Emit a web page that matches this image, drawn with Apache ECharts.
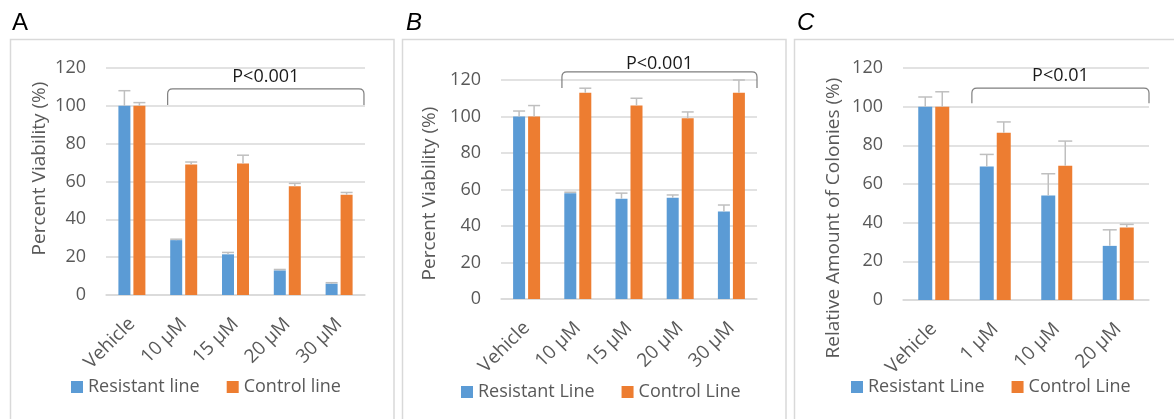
<!DOCTYPE html>
<html>
<head>
<meta charset="utf-8">
<script src="https://cdn.jsdelivr.net/npm/echarts@6/dist/echarts.min.js"></script>
<style>
  html, body { margin: 0; padding: 0; background: #fff; }
  #main { width: 1174px; height: 419px; }
</style>
</head>
<body>
<div id="main"></div>
<script>
// panel A - cell viability
var catsA = ['Vehicle', '10 µM', '15 µM', '20 µM', '30 µM'];
var resA = [100, 29, 21.5, 13, 6];
var resErrA = [8, 0.5, 1, 0.5, 0.5];
var ctrlA = [100, 69, 69.5, 57.5, 53];
var ctrlErrA = [1.7, 1.3, 4.4, 1.5, 1.2];

// panel B
var catsB = ['Vehicle', '10 µM', '15 µM', '20 µM', '30 µM'];
var resB = [100, 58, 55, 55.5, 48];
var resErrB = [3, 0.5, 3, 1.5, 3.5];
var ctrlB = [100, 113, 106, 99, 113];
var ctrlErrB = [6, 2.5, 4, 3.5, 7];

// panel C - colonies
var catsC = ['Vehicle', '1 µM', '10 µM', '20 µM'];
var resC = [100, 69, 54, 28];
var resErrC = [5, 6.3, 11.3, 8.3];
var ctrlC = [100, 86.5, 69.5, 37.5];
var ctrlErrC = [7.7, 5.6, 12.7, 1.6];

var yTicks = {min: 0, max: 120, interval: 20};

var BLUE = '#5B9BD5', ORANGE = '#ED7D31', GREY = '#595959', FONT = 'Open Sans';

function errRender(offset, capW) {
    return function (params, api) {
        var idx = api.value(0), v = api.value(1), e = api.value(2);
        var base = api.coord([idx, v]);
        var top = api.coord([idx, v + e]);
        var x = base[0] + offset;
        var st = {stroke: '#BFBFBF', lineWidth: 1.5};
        return {
            type: 'group',
            children: [
                {type: 'line', shape: {x1: x, y1: base[1], x2: x, y2: top[1]}, style: st},
                {type: 'line', shape: {x1: x - capW / 2, y1: top[1], x2: x + capW / 2, y2: top[1]}, style: st}
            ]
        };
    };
}

// bracket: [from idx, to idx, low value, high value, text value]
function bracketRender(spec, label) {
    return function (params, api) {
        var band = api.size([1, 0])[0];
        var x0 = api.coord([0, 0])[0];
        var xl = x0 + spec[0] * band, xr = x0 + spec[1] * band;
        var yl = api.coord([0, spec[2]])[1], yh = api.coord([0, spec[3]])[1], yt = api.coord([0, spec[4]])[1];
        var r = 5;
        var d = 'M' + xl + ' ' + yl + ' L' + xl + ' ' + (yh + r) + ' Q' + xl + ' ' + yh + ' ' + (xl + r) + ' ' + yh +
            ' L' + (xr - r) + ' ' + yh + ' Q' + xr + ' ' + yh + ' ' + xr + ' ' + (yh + r) + ' L' + xr + ' ' + yl;
        return {
            type: 'group',
            children: [
                {type: 'path', shape: {pathData: d}, style: {stroke: '#7F7F7F', fill: null, lineWidth: 1.2}},
                {type: 'text', style: {text: label, x: (xl + xr) / 2, y: yt, align: 'center', verticalAlign: 'middle',
                    fill: '#1a1a1a', font: '18px "Open Sans"'}}
            ]
        };
    };
}

var panels = [
    {cats: catsA, res: resA, resErr: resErrA, ctrl: ctrlA, ctrlErr: ctrlErrA,
        grid: {left: 106, top: 68, width: 259, height: 227}, barW: 12, gap: 3,
        yName: 'Percent Viability (%)', nameGap: 57, namePad: [0, 0, 0, 26],
        names: ['Resistant line', 'Control line'], legend: {left: 66, top: 373},
        bracket: [0.69, 4.48, 100.5, 109, 115.5], pText: 'P<0.001'},
    {cats: catsB, res: resB, resErr: resErrB, ctrl: ctrlB, ctrlErr: ctrlErrB,
        grid: {left: 501, top: 80, width: 256, height: 219}, barW: 12, gap: 3,
        yName: 'Percent Viability (%)', nameGap: 62, namePad: [0, 8, 0, 0],
        names: ['Resistant Line', 'Control Line'], legend: {left: 456, top: 378},
        bracket: [0.69, 4.5, 115.6, 124.4, 129], pText: 'P<0.001'},
    {cats: catsC, res: resC, resErr: resErrC, ctrl: ctrlC, ctrlErr: ctrlErrC,
        grid: {left: 903, top: 68, width: 246, height: 232}, barW: 14, gap: 3,
        yName: 'Relative Amount of Colonies (%)', nameGap: 60, namePad: [0, 68, 0, 0],
        names: ['Resistant Line', 'Control Line'], legend: {left: 846, top: 373},
        bracket: [0.62, 3.5, 101.8, 109.6, 115.8], pText: 'P<0.01'}
];

var option = {
    animation: false,
    textStyle: {fontFamily: FONT},
    grid: [], xAxis: [], yAxis: [], legend: [], series: [],
    graphic: [
        {type: 'rect', shape: {x: 10.5, y: 39.5, width: 383.5, height: 420}, style: {fill: null, stroke: '#D9D9D9', lineWidth: 1.5}},
        {type: 'rect', shape: {x: 402.5, y: 39.5, width: 383.5, height: 420}, style: {fill: null, stroke: '#D9D9D9', lineWidth: 1.5}},
        {type: 'rect', shape: {x: 794.5, y: 39.5, width: 420, height: 420}, style: {fill: null, stroke: '#D9D9D9', lineWidth: 1.5}},
        {type: 'text', left: 12, top: 11, style: {text: 'A', fill: '#000', font: '24px "Liberation Sans"'}},
        {type: 'text', left: 406, top: 11, style: {text: 'B', fill: '#000', font: 'italic 24px "Liberation Sans"'}},
        {type: 'text', left: 797, top: 11, style: {text: 'C', fill: '#000', font: 'italic 24px "Liberation Sans"'}}
    ]
};

panels.forEach(function (p, k) {
    option.grid.push(p.grid);
    option.xAxis.push({
        type: 'category', gridIndex: k, data: p.cats,
        axisTick: {show: false},
        axisLine: {lineStyle: {color: '#D9D9D9', width: 1.5}},
        axisLabel: {rotate: 45, interval: 0, margin: 26, color: GREY, fontSize: 19, fontFamily: FONT}
    });
    option.yAxis.push({
        type: 'value', gridIndex: k, min: yTicks.min, max: yTicks.max, interval: yTicks.interval,
        name: p.yName, nameLocation: 'middle', nameGap: p.nameGap,
        nameTextStyle: {color: GREY, fontSize: 19, fontFamily: FONT, padding: p.namePad},
        axisLine: {show: false}, axisTick: {show: false},
        axisLabel: {margin: 20, color: GREY, fontSize: 18, fontFamily: FONT},
        splitLine: {lineStyle: {color: '#D9D9D9', width: 1.5}}
    });
    option.legend.push({
        data: p.names, left: p.legend.left, top: p.legend.top,
        icon: 'rect', itemWidth: 12, itemHeight: 12, itemGap: 27,
        textStyle: {color: GREY, fontSize: 18, fontFamily: FONT}
    });
    var off = (p.barW + p.gap) / 2;
    option.series.push({
        name: p.names[0], type: 'bar', xAxisIndex: k, yAxisIndex: k, data: p.res,
        barWidth: p.barW, barGap: (p.gap / p.barW * 100) + '%', itemStyle: {color: BLUE}
    });
    option.series.push({
        name: p.names[1], type: 'bar', xAxisIndex: k, yAxisIndex: k, data: p.ctrl,
        barWidth: p.barW, barGap: (p.gap / p.barW * 100) + '%', itemStyle: {color: ORANGE}
    });
    option.series.push({
        type: 'custom', xAxisIndex: k, yAxisIndex: k, z: 5,
        renderItem: errRender(-off, p.barW), encode: {x: 0, y: 1},
        data: p.res.map(function (v, i) { return [i, v, p.resErr[i]]; })
    });
    option.series.push({
        type: 'custom', xAxisIndex: k, yAxisIndex: k, z: 5,
        renderItem: errRender(off, p.barW), encode: {x: 0, y: 1},
        data: p.ctrl.map(function (v, i) { return [i, v, p.ctrlErr[i]]; })
    });
    option.series.push({
        type: 'custom', xAxisIndex: k, yAxisIndex: k, z: 6, silent: true,
        renderItem: bracketRender(p.bracket, p.pText), encode: {x: 0, y: 1},
        data: [[0, 0]]
    });
});

var myChart = echarts.init(document.getElementById('main'));
myChart.setOption(option);
</script>
</body>
</html>
